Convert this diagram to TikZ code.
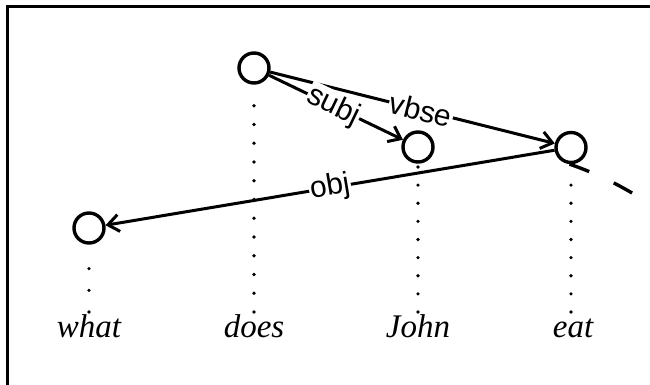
\documentclass[tikz,border=0pt]{standalone}
\usepackage{fontspec}
\setmainfont{Liberation Serif}
\newfontfamily\labelfont{Liberation Sans}
\usetikzlibrary{arrows.meta}
\begin{document}
\begin{tikzpicture}[x=1pt,y=-1pt,
  vertex/.style={circle,draw,line width=3.4pt,minimum size=30pt,inner sep=0pt,fill=white},
  word/.style={anchor=base,inner sep=0pt,font=\fontsize{33}{36}\selectfont\itshape},
  rel/.style={line width=3pt,-{Straight Barb[length=11pt,width=17pt,line width=3pt]}},
  lab/.style={midway,sloped,fill=white,inner sep=1pt,font=\labelfont\fontsize{30}{32}\selectfont},
  guide/.style={line width=3.6pt,line cap=round,dash pattern=on 0pt off #1},
  frameline/.style={line width=3pt},
  trail/.style={line width=3.4pt,dash pattern=on 21pt off 27pt}]
\useasboundingbox (0,0) rectangle (650,385);
\draw[frameline] (7,385) -- (7,7) -- (650,7);

% vertices
\node[vertex] (vdoes) at (254,68) {};
\node[vertex] (vjohn) at (418,147) {};
\node[vertex] (veat)  at (571,147.5) {};
\node[vertex] (vwhat) at (89,228) {};

% words
\node[word] (wwhat) at (89,337) {what};
\node[word] (wdoes) at (254,337) {does};
\node[word] (wjohn) at (418,337) {John};
\node[word] (weat)  at (573,337) {eat};

% dotted guides
\draw[guide=21.67pt] (vwhat |- 0,312) -- ([yshift=-19.3pt]vwhat.center);
\draw[guide=18.75pt] (vdoes |- 0,312) -- ([yshift=-19.3pt]vdoes.center);
\draw[guide=18.13pt] (vjohn |- 0,312) -- ([yshift=-19.3pt]vjohn.center);
\draw[guide=18.13pt] (veat |- 0,312) -- ([yshift=-19.8pt]veat.center);

% relations
\draw[rel] (vdoes) -- node[lab,pos=0.53] {vbse} (veat);
\draw[rel] (vdoes) -- node[lab,pos=0.48] {subj} (vjohn);
\draw[rel] (veat) -- node[lab] {obj} (vwhat);

% trailing dashed curve
\draw[trail] (veat.265) .. controls (598,174) and (622,186) .. (650,204);
\end{tikzpicture}
\end{document}
